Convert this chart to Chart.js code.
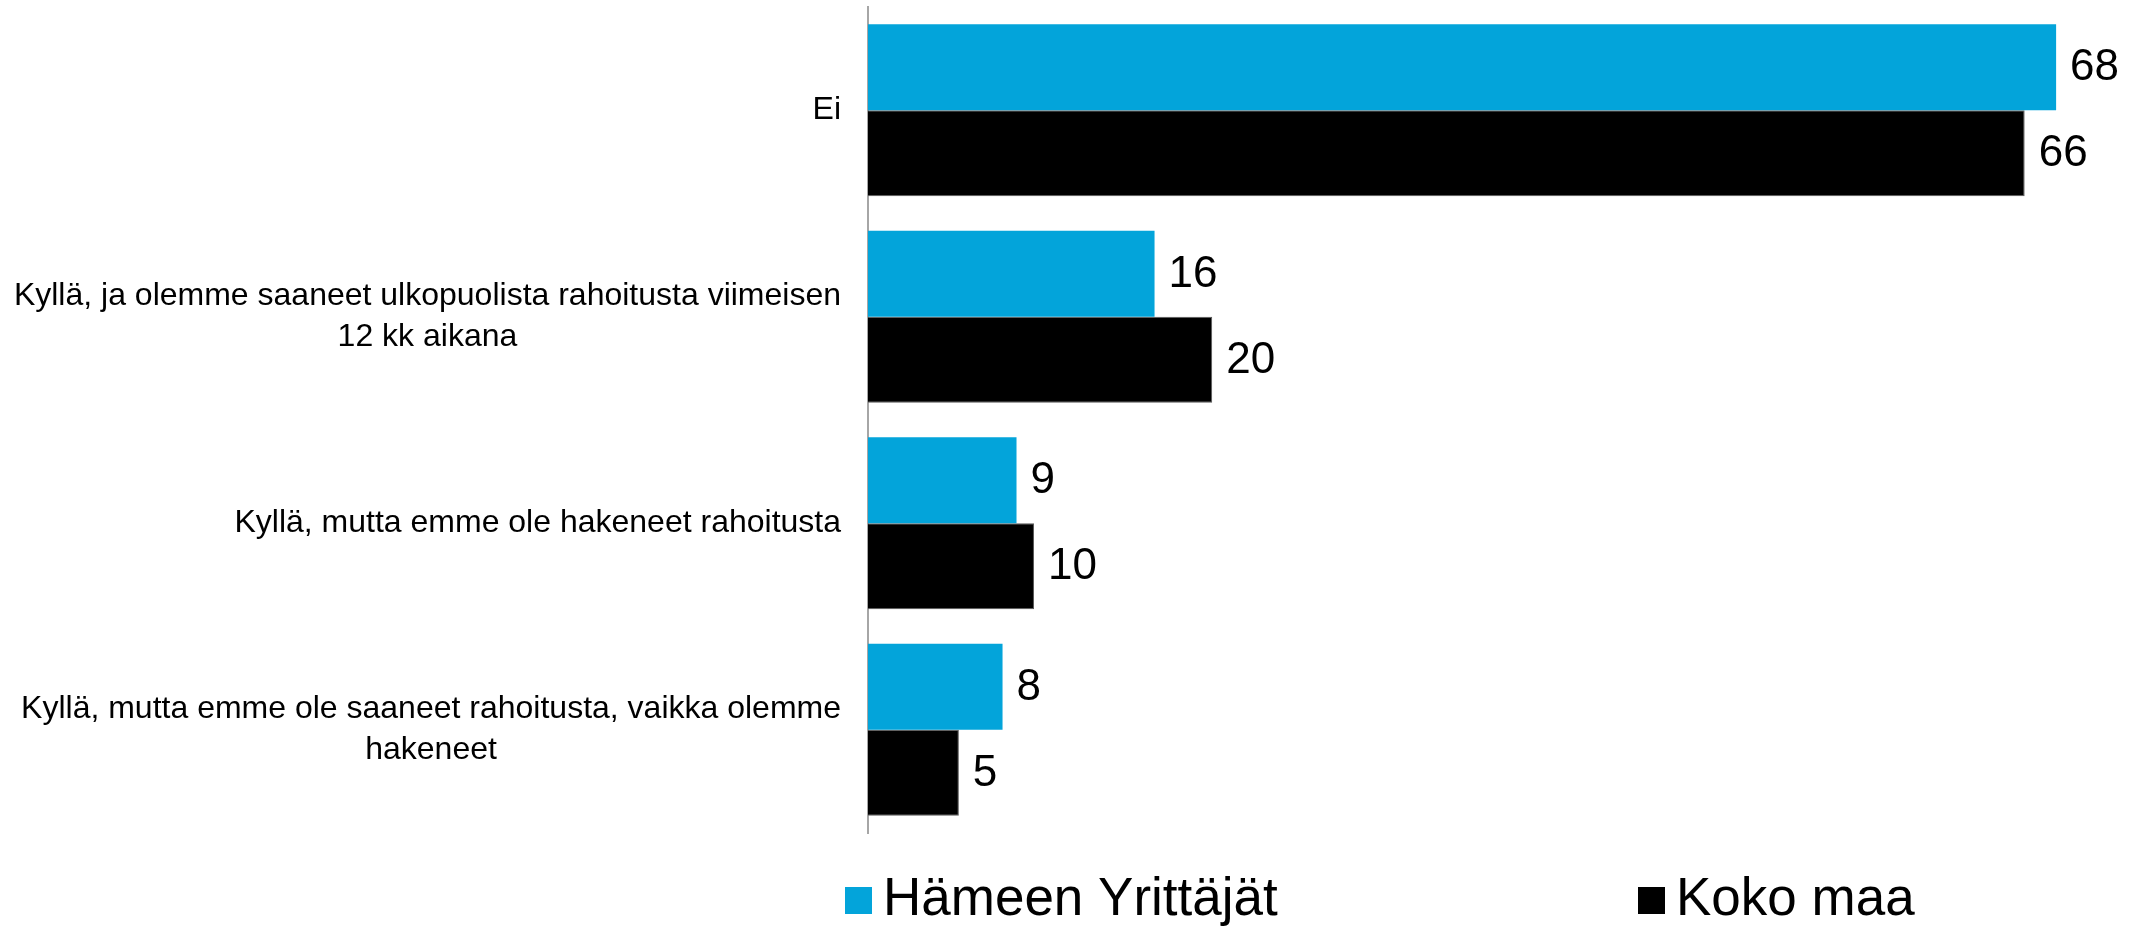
<!DOCTYPE html>
<html>
<head>
<meta charset="utf-8">
<script src="https://cdn.jsdelivr.net/npm/chart.js@4"></script>
<style>
  html, body { margin: 0; padding: 0; background: #fff; }
  #wrap { width: 2131px; height: 926px; position: relative; }
</style>
</head>
<body>
<div id="wrap"><canvas id="chart"></canvas></div>
<script>
// Categories (each one split into its printed lines)
const categories = [
  ['Ei'],
  ['Kyllä, ja olemme saaneet ulkopuolista rahoitusta viimeisen', '12 kk aikana'],
  ['Kyllä, mutta emme ole hakeneet rahoitusta'],
  ['Kyllä, mutta emme ole saaneet rahoitusta, vaikka olemme', 'hakeneet']
];
const seriesNames = ['Hämeen Yrittäjät', 'Koko maa'];
const hameValues = [68.0, 16.4, 8.5, 7.7];
const kokoMaaValues = [66.2, 19.7, 9.5, 5.2];
const seriesColors = ['#03a4da', '#000000'];

const FONT = 'Arial, "Liberation Sans", sans-serif';

// Draws category labels: each block centered on itself, right edge by the axis
const categoryLabels = {
  id: 'categoryLabels',
  afterDraw(chart) {
    const ctx = chart.ctx;
    const yScale = chart.scales.y;
    const rightEdge = chart.chartArea.left - 27;
    const lineH = 41;
    ctx.save();
    ctx.font = '32px ' + FONT;
    ctx.fillStyle = '#000';
    ctx.textAlign = 'center';
    ctx.textBaseline = 'middle';
    categories.forEach(function (lines, i) {
      const y = yScale.getPixelForTick(i);
      const w = Math.max.apply(null, lines.map(l => ctx.measureText(l).width));
      const cx = rightEdge - w / 2;
      const top = y - (lines.length - 1) * lineH / 2;
      lines.forEach(function (l, j) {
        ctx.fillText(l, cx, top + j * lineH);
      });
    });
    ctx.restore();
  }
};

// Value labels at the end of each bar
const valueLabels = {
  id: 'valueLabels',
  afterDatasetsDraw(chart) {
    const ctx = chart.ctx;
    ctx.save();
    ctx.font = '44px ' + FONT;
    ctx.fillStyle = '#000';
    ctx.textAlign = 'left';
    ctx.textBaseline = 'middle';
    chart.data.datasets.forEach(function (ds, di) {
      chart.getDatasetMeta(di).data.forEach(function (bar, i) {
        ctx.fillText(String(Math.round(ds.data[i])), bar.x + 14, bar.y + 1);
      });
    });
    ctx.restore();
  }
};

// Legend at the bottom, two items far apart
const bottomLegend = {
  id: 'bottomLegend',
  afterDraw(chart) {
    const ctx = chart.ctx;
    const starts = [845, 1638];
    const baseline = 915;
    const box = 27;
    ctx.save();
    ctx.font = '53px ' + FONT;
    ctx.textBaseline = 'alphabetic';
    ctx.textAlign = 'left';
    chart.data.datasets.forEach(function (ds, i) {
      ctx.fillStyle = ds.backgroundColor;
      ctx.fillRect(starts[i], baseline - box - 1, box, box);
      ctx.fillStyle = '#000';
      ctx.fillText(ds.label, starts[i] + box + 11, baseline);
    });
    ctx.restore();
  }
};

new Chart(document.getElementById('chart'), {
  type: 'bar',
  data: {
    labels: categories,
    datasets: [
      {
        label: seriesNames[0],
        data: hameValues,
        backgroundColor: seriesColors[0],
        borderWidth: 0
      },
      {
        label: seriesNames[1],
        data: kokoMaaValues,
        backgroundColor: seriesColors[1],
        borderColor: '#595959',
        borderWidth: 1
      }
    ]
  },
  options: {
    indexAxis: 'y',
    responsive: true,
    maintainAspectRatio: false,
    animation: false,
    layout: { padding: { top: 7, right: 5, bottom: 93, left: 0 } },
    categoryPercentage: 0.833,
    barPercentage: 1,
    plugins: {
      legend: { display: false },
      tooltip: { enabled: false }
    },
    scales: {
      x: {
        display: false,
        min: 0,
        max: 72
      },
      y: {
        grid: { display: false },
        border: { display: true, color: '#a6a6a6', width: 2 },
        ticks: { display: false },
        afterFit(scale) { scale.width = 868; }
      }
    }
  },
  plugins: [categoryLabels, valueLabels, bottomLegend]
});
</script>
</body>
</html>
